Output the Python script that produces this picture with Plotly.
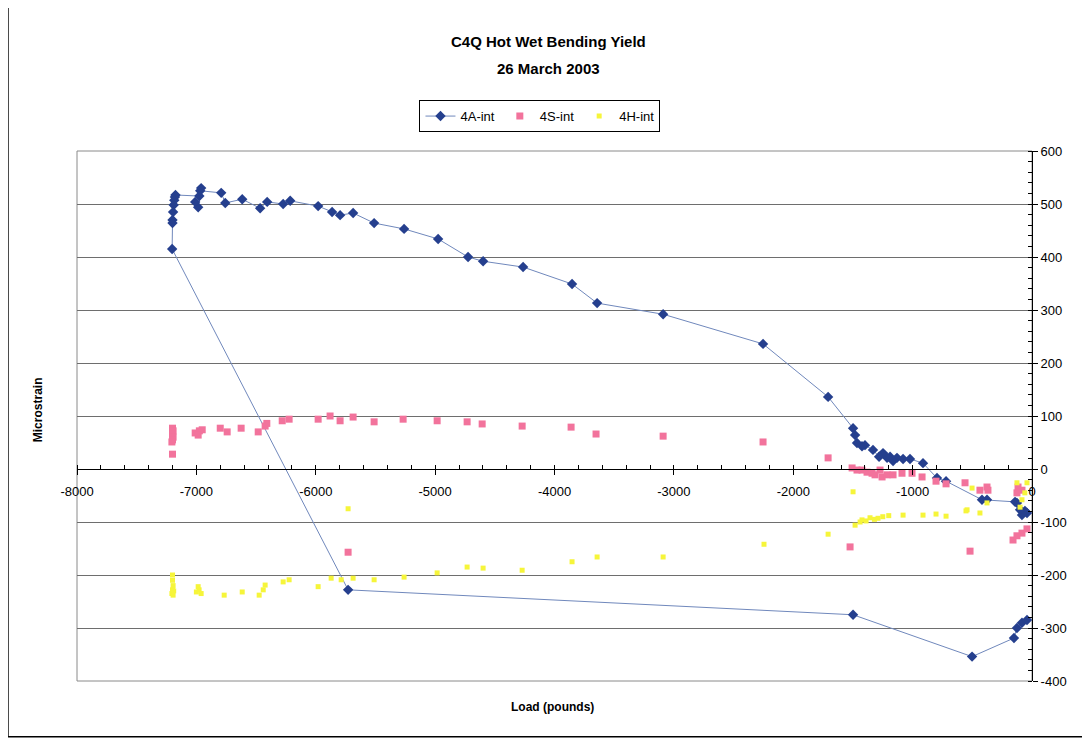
import plotly.graph_objects as go

# ---- data ----
a_load = [-42, -59, -84, -100, -126, -142, -377, -419, -720, -796, -913, -1022, -1080, -1131,
          -1164, -1189, -1214, -1248, -1281, -1332, -1399, -1424, -1466, -1482, -1499, -1708,
          -2253, -3090, -3643, -3853, -4263, -4598, -4724, -4975, -5260, -5511, -5687, -5796,
          -5863, -5980, -6214, -6273, -6407, -6466, -6616, -6758, -6792, -6968, -6960, -6985,
          -7010, -6975, -7175, -7180, -7185, -7190, -7195, -7200, -7200, -7203, -5729, -1499,
          -502, -151, -126, -84, -42]
a_strain = [-83, -79, -87, -77, -64, -62, -58, -58, -23, -17, 11, 19, 19, 21,
            15, 23, 21, 30, 23, 36, 45, 43, 49, 64, 77, 136,
            236, 292, 313, 349, 381, 392, 400, 434, 453, 464, 483, 479,
            485, 496, 506, 500, 504, 492, 509, 502, 521, 525, 530, 494,
            504, 515, 517, 513, 507, 498, 485, 470, 464, 415, -228, -275,
            -354, -319, -300, -290, -285]

s_load = [-7200, -7195, -7200, -7195, -7200, -7205, -7200, -7010, -6975, -6951, -6985,
          -6800, -6742, -6625, -6482, -6424, -6410, -6281, -6223, -5980, -5880, -5796,
          -5687, -5511, -5268, -4983, -4732, -4606, -4271, -3861, -3652, -3090, -2253,
          -1708, -1507, -1466, -1424, -1382, -1340, -1315, -1273, -1256, -1214, -1164,
          -1089, -1005, -921, -804, -720, -561, -436, -377, -369, -126, -117, -84,
          -5729, -1524, -519, -159, -126, -84, -42]
s_strain = [77, 72, 66, 60, 55, 51, 28, 68, 72, 74, 64,
            77, 70, 77, 70, 81, 86, 91, 94, 94, 100, 91,
            98, 89, 94, 91, 89, 85, 81, 79, 66, 62, 51,
            21, 2, -2, -2, -6, -8, -11, -2, -15, -11, -11,
            -8, -8, -15, -23, -28, -26, -40, -34, -40, -45, -34, -40,
            -157, -147, -155, -134, -126, -121, -113]

h_load = [-7200, -7200, -7195, -7200, -7205, -7195, -7190, -6977, -7000, -6960, -6985,
          -6767, -6616, -6474, -6424, -6440, -6273, -6223, -5980, -5871, -5787, -5687,
          -5511, -5260, -4983, -4732, -4598, -4271, -3853, -3643, -3090, -2245, -1708,
          -1482, -1440, -1424, -1390, -1357, -1320, -1290, -1250, -1200, -1080, -913,
          -804, -720, -553, -436, -544, -5729, -1499, -502, -377, -126, -84, -100, -42, -60]
h_strain = [-200, -210, -220, -228, -235, -238, -230, -228, -232, -235, -222,
            -238, -232, -238, -219, -228, -213, -209, -222, -206, -209, -206,
            -209, -204, -196, -185, -187, -191, -175, -166, -166, -142, -123,
            -106, -100, -96, -98, -92, -95, -93, -90, -88, -87, -87,
            -85, -89, -79, -83, -77, -75, -43, -36, -64, -26, -58, -72, -26, -45]

x_ticks = [-8000, -7000, -6000, -5000, -4000, -3000, -2000, -1000, 0]
y_ticks = [600, 500, 400, 300, 200, 100, 0, -100, -200, -300, -400]

FONT = "Liberation Sans, Arial, sans-serif"

fig = go.Figure()
fig.add_trace(go.Scatter(
    x=a_load, y=a_strain, mode="lines+markers", name="4A-int",
    line=dict(color="#7088BC", width=1),
    marker=dict(symbol="diamond", size=8, color="#253F8E"),
))
fig.add_trace(go.Scatter(
    x=s_load, y=s_strain, mode="markers", name="4S-int",
    marker=dict(symbol="square", size=7, color="#F2739C"),
))
fig.add_trace(go.Scatter(
    x=h_load, y=h_strain, mode="markers", name="4H-int",
    marker=dict(symbol="square", size=5, color="#F6F53A"),
))

fig.update_layout(
    width=1082, height=732,
    paper_bgcolor="white", plot_bgcolor="white",
    margin=dict(l=69, r=58, t=143, b=59, autoexpand=False),
    font=dict(family=FONT, size=13, color="black"),
    showlegend=True,
    legend=dict(
        orientation="h", x=0.4848, y=1.096, xanchor="center", yanchor="top",
        bordercolor="black", borderwidth=1, bgcolor="white",
        font=dict(family=FONT, size=13), itemwidth=30, tracegroupgap=0,
    ),
    xaxis=dict(
        range=[-8000, 0], tickvals=x_ticks, ticktext=[str(v) for v in x_ticks],
        anchor="free", position=0.4, showgrid=False, zeroline=False,
        showline=True, linecolor="black", linewidth=1,
        ticks="outside", ticklen=5, tickcolor="black", ticklabelstandoff=5,
        minor=dict(dtick=200, ticks="inside", ticklen=4, tickcolor="black"),
        tickfont=dict(family=FONT, size=13),
    ),
    yaxis=dict(
        range=[-400, 600], tickvals=y_ticks, ticktext=[str(v) for v in y_ticks],
        side="right", showgrid=True, gridcolor="#6e6e6e", gridwidth=1,
        zeroline=False, showline=True, linecolor="black", linewidth=1,
        ticks="outside", ticklen=5, tickcolor="black",
        minor=dict(dtick=20, ticks="inside", ticklen=4, tickcolor="black", showgrid=False),
        tickfont=dict(family=FONT, size=13),
    ),
    shapes=[
        dict(type="rect", xref="x domain", yref="y domain", x0=0, x1=1, y0=0, y1=1,
             line=dict(color="#8a8a8a", width=1), layer="below"),
        dict(type="rect", xref="paper", yref="paper", x0=-0.0723, x1=1.0555,
             y0=-0.105, y1=1.2755, line=dict(color="black", width=1.5)),
    ],
    annotations=[
        dict(text="<b>C4Q Hot Wet Bending Yield</b>", xref="paper", yref="paper",
             x=0.4932, y=1.2057, xanchor="center", yanchor="middle", showarrow=False,
             font=dict(family=FONT, size=15)),
        dict(text="<b>26 March 2003</b>", xref="paper", yref="paper",
             x=0.4932, y=1.1566, xanchor="center", yanchor="middle", showarrow=False,
             font=dict(family=FONT, size=15)),
        dict(text="<b>Microstrain</b>", xref="paper", yref="paper", textangle=-90,
             x=-0.0408, y=0.511, xanchor="center", yanchor="middle", showarrow=False,
             font=dict(family=FONT, size=12)),
        dict(text="<b>Load (pounds)</b>", xref="paper", yref="paper",
             x=0.4984, y=-0.049, xanchor="center", yanchor="middle", showarrow=False,
             font=dict(family=FONT, size=12)),
    ],
)

fig.write_html("out.html")
